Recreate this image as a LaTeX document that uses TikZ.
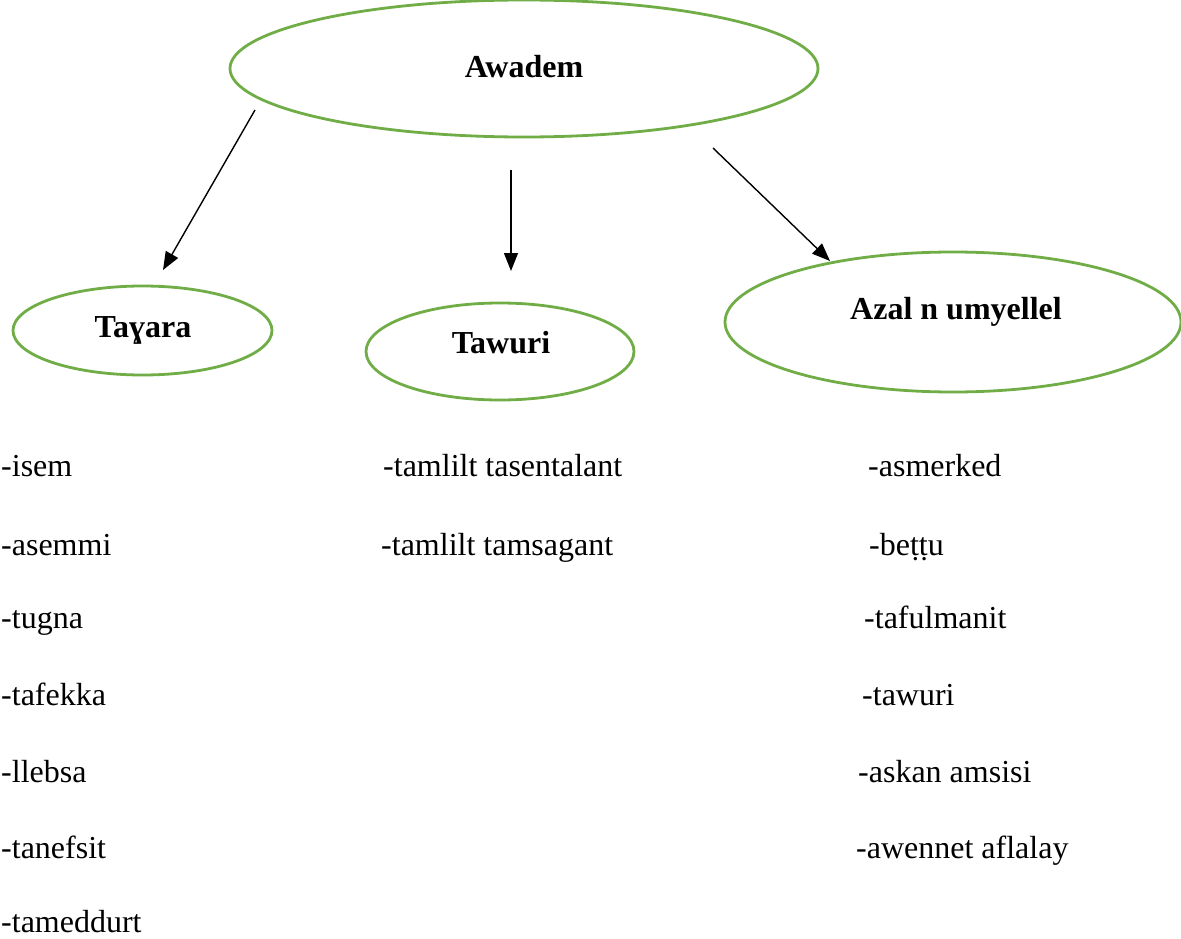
\documentclass[tikz,border=0pt]{standalone}
\usepackage{fontspec}
\setmainfont{Liberation Serif}
\usetikzlibrary{shapes.geometric,arrows.meta}
\definecolor{ellgreen}{RGB}{112,173,71}
\begin{document}
\begin{tikzpicture}[x=1pt,y=-1pt,
  ell/.style={ellipse,draw=ellgreen,line width=2.8pt,inner sep=0pt},
  head/.style={font=\fontsize{32}{38}\selectfont\bfseries,inner sep=0pt},
  item/.style={font=\fontsize{32}{38}\selectfont,inner sep=0pt,anchor=base west},
  arr/.style={line width=1.4pt,-{Triangle[length=18pt,width=14pt]}}]
\useasboundingbox (0,0) rectangle (1181,939);
% ellipses
\node[ell,minimum width=588pt,minimum height=137pt] (e0) at (524,68.5) {};
\node[ell,minimum width=259pt,minimum height=89pt] (e1) at (142.5,330.5) {};
\node[ell,minimum width=268pt,minimum height=97pt] (e2) at (500,351.5) {};
\node[ell,minimum width=456pt,minimum height=140pt] (e3) at (953,322) {};
% headings
\node[head] (t0) at (524,67) {Awadem};
\node[head] (t1) at (143,330) {Taɣara};
\node[head] (t2) at (501,343) {Tawuri};
\node[head] (t3) at (956,312) {Azal n umyellel};
% arrows
\coordinate (a1s) at (255,110); \coordinate (a1e) at (163,270);
\coordinate (a2s) at (511,170); \coordinate (a2e) at (511,271);
\coordinate (a3s) at (713,148); \coordinate (a3e) at (830,261);
\draw[arr] (a1s) -- (a1e);
\draw[arr] (a2s) -- (a2e);
\draw[arr] (a3s) -- (a3e);
% left list
\node[item] (l1) at (1,476) {-isem};
\node[item] (l2) at (1,555) {-asemmi};
\node[item] (l3) at (1,628) {-tugna};
\node[item] (l4) at (1,705) {-tafekka};
\node[item] (l5) at (1,782) {-llebsa};
\node[item] (l6) at (1,858) {-tanefsit};
\node[item] (l7) at (1,932) {-tameddurt};
% middle list
\node[item] (m1) at (383,476) {-tamlilt tasentalant};
\node[item] (m2) at (381,555) {-tamlilt tamsagant};
% right list
\node[item] (r1) at (868,476) {-asmerked};
\node[item] (r2) at (869,555) {-beṭṭu};
\node[item] (r3) at (864,628) {-tafulmanit};
\node[item] (r4) at (862,705) {-tawuri};
\node[item] (r5) at (858,782) {-askan amsisi};
\node[item] (r6) at (856,858) {-awennet aflalay};
\end{tikzpicture}
\end{document}
